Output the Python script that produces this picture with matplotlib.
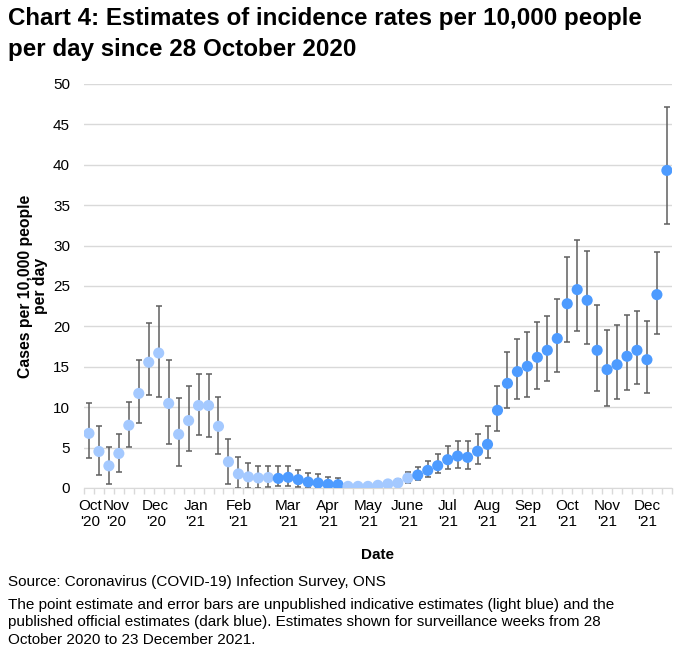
"""
Chart 4: incidence rates per 10,000 people per day (ONS Infection Survey).
"""
import matplotlib
matplotlib.use('Agg')
import matplotlib.pyplot as plt
import numpy as np

plt.rcParams['font.family'] = ['Liberation Sans', 'DejaVu Sans']

# point estimates, upper and lower bounds, one per surveillance week
estimate = [6.76, 4.52, 2.74, 4.27, 7.76, 11.7, 15.56, 16.7, 10.46, 6.64,
            8.34, 10.2, 10.2, 7.63, 3.24, 1.74, 1.37, 1.24, 1.29, 1.19,
            1.32, 1.03, 0.74, 0.62, 0.45, 0.41, 0.2, 0.2, 0.2, 0.33,
            0.5, 0.62, 1.23, 1.6, 2.18, 2.76, 3.5, 3.95, 3.79, 4.55,
            5.4, 9.61, 12.95, 14.4, 15.06, 16.17, 17.04, 18.5, 22.8, 24.55,
            23.23, 17.04, 14.65, 15.26, 16.3, 17.04, 15.88, 23.93, 39.3]
upper = [10.46, 7.63, 5.06, 6.72, 10.7, 15.9, 20.46, 22.5, 15.9, 11.1,
         12.6, 14.1, 14.07, 11.24, 6.06, 3.86, 3.11, 2.74, 2.74, 2.67,
         2.67, 2.22, 1.81, 1.69, 1.32, 1.19, 0.6, 0.5, 0.5, 0.7,
         0.9, 1.1, 1.93, 2.6, 3.37, 4.16, 5.14, 5.8, 5.8, 6.7,
         7.63, 12.67, 16.8, 18.4, 19.3, 20.5, 21.3, 23.35, 28.6, 30.65,
         29.33, 22.65, 19.55, 20.17, 21.4, 21.9, 20.7, 29.2, 47.15]
lower = [3.73, 1.62, 0.54, 1.99, 5.1, 8.1, 11.45, 11.3, 5.48, 2.74,
         4.6, 6.5, 6.35, 4.15, 0.54, 0.0, 0.0, 0.0, 0.1, 0.2,
         0.29, 0.12, 0.0, 0.0, 0.0, 0.0, 0.0, 0.0, 0.0, 0.05,
         0.15, 0.25, 0.6, 1.03, 1.36, 1.85, 2.35, 2.47, 2.35, 3.0,
         3.71, 7.1, 9.9, 11.0, 11.3, 12.25, 13.24, 14.36, 18.07, 19.47,
         17.8, 12.0, 10.19, 11.0, 12.13, 12.87, 11.76, 19.1, 32.67]
# True = published official estimate (dark blue), False = indicative (light blue)
official = [False] * 19 + [True] * 7 + [False] * 7 + [True] * 26

month_labels = ["Oct\n'20", "Nov\n'20", "Dec\n'20", "Jan\n'21", "Feb\n'21",
                "Mar\n'21", "Apr\n'21", "May\n'21", "June\n'21", "Jul\n'21",
                "Aug\n'21", "Sep\n'21", "Oct\n'21", "Nov\n'21", "Dec\n'21"]
month_pos = [0.15, 2.75, 6.7, 10.7, 15.0, 20, 24, 28, 32, 36, 40, 44, 48, 52, 56]

LIGHT = '#a4c9ff'
DARK = '#4d9bff'

est = np.array(estimate)
x = np.arange(len(est))
yerr = np.vstack([est - np.array(lower), np.array(upper) - est])
colors = [DARK if o else LIGHT for o in official]

fig = plt.figure(figsize=(6.9, 6.67), dpi=100)
ax = fig.add_axes([0.1217, 0.2684, 0.852, 0.6057])

ax.errorbar(x, est, yerr=yerr, fmt='none', ecolor='#5f5f5f', elinewidth=1.1,
            capsize=2.3, capthick=1.1, zorder=2)
ax.scatter(x, est, s=64, c=colors, edgecolors='none', zorder=3)

ax.set_xlim(-0.5, len(est) - 0.5)
ax.set_ylim(0, 50)
ax.set_yticks(np.arange(0, 51, 5))
ax.yaxis.grid(True, color='#d9d9d9', linewidth=1)
ax.set_axisbelow(True)
ax.tick_params(axis='y', length=0, pad=10, labelsize=11)

ax.set_xticks(month_pos)
ax.set_xticklabels(month_labels, linespacing=1.15, fontsize=11)
ax.tick_params(axis='x', which='major', length=0, pad=8)
ax.set_xticks(np.arange(-0.5, len(est)), minor=True)
ax.tick_params(axis='x', which='minor', length=4, color='#d9d9d9', width=1)

for side in ['top', 'right', 'left']:
    ax.spines[side].set_visible(False)
ax.spines['bottom'].set_color('#d9d9d9')

ax.set_xlabel('Date', fontsize=11, fontweight='bold', labelpad=14)
ax.set_ylabel('Cases per 10,000 people\nper day', fontsize=11.3,
              fontweight='bold', linespacing=1.0, labelpad=4)

fig.text(0.012, 0.989, 'Chart 4: Estimates of incidence rates per 10,000 people\n'
         'per day since 28 October 2020', fontsize=17.4, fontweight='bold',
         va='top', ha='left', linespacing=1.4)

fig.text(0.012, 0.127, 'Source: Coronavirus (COVID-19) Infection Survey, ONS',
         fontsize=11, va='center', ha='left')
fig.text(0.012, 0.1034, 'The point estimate and error bars are unpublished indicative '
         'estimates (light blue) and the\npublished official estimates (dark blue). '
         'Estimates shown for surveillance weeks from 28\nOctober 2020 to 23 December 2021.',
         fontsize=11, va='top', ha='left', linespacing=1.3)

fig.savefig('out.png', dpi=100)
